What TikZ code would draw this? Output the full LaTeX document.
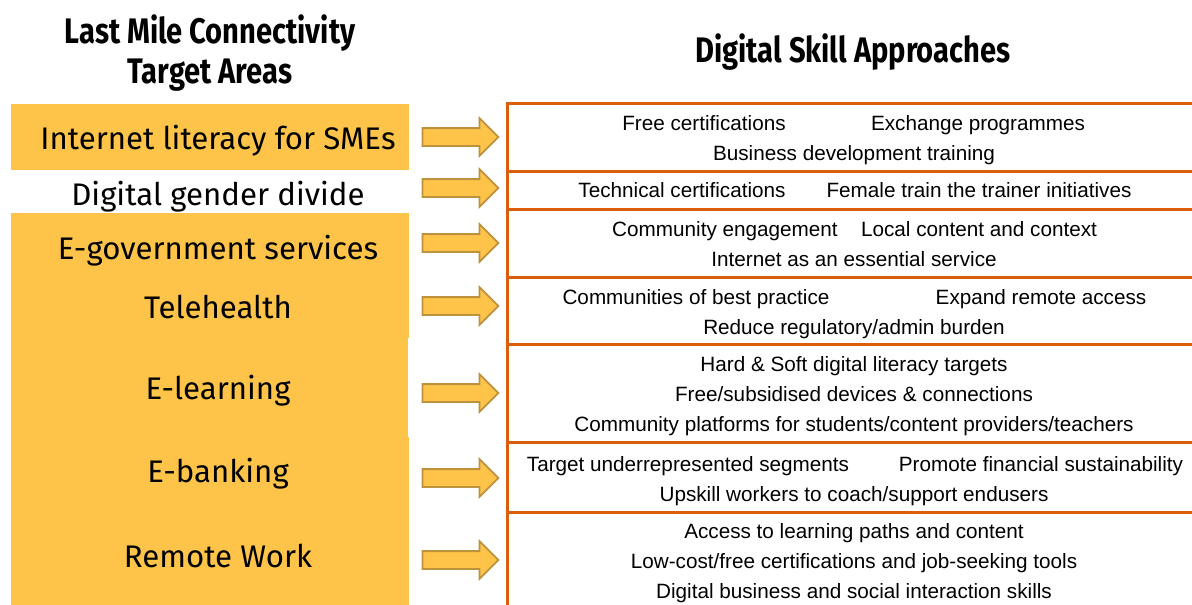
\documentclass[tikz,border=0pt]{standalone}
\usepackage{fontspec}
\setmainfont{Liberation Sans}
\newfontfamily\firafont{Fira Sans}
\newfontfamily\firahead[FakeStretch=0.82]{Fira Sans Bold}
\usetikzlibrary{shapes.arrows}

\definecolor{areafill}{RGB}{254,196,74}
\definecolor{arrowedge}{RGB}{190,145,60}
\definecolor{rowline}{RGB}{218,94,12}

\begin{document}
\begin{tikzpicture}[
  x=1pt,y=-1pt,
  header/.style={font=\firahead\fontsize{35.5}{40}\selectfont,align=center,inner sep=0pt},
  area/.style={font=\firafont\fontsize{31.2}{34}\selectfont,inner sep=0pt,
    text height=23pt,text depth=0pt},
  skill/.style={font=\fontsize{20.7}{24}\selectfont,inner sep=0pt,
    text height=15pt,text depth=0pt},
  blockarrow/.style={single arrow,fill=areafill,draw=arrowedge,line width=1.8pt,
    inner sep=8pt,single arrow head extend=10pt,minimum height=76pt,
    single arrow head indent=0pt},
  rule/.style={draw=rowline,line width=3pt},
]
\useasboundingbox (0,0) rectangle (1192,605);

% headers
\node[header] (lefthead) at (210,53) {Last Mile Connectivity\\Target Areas};
\node[header] (righthead) at (853,52) {Digital Skill Approaches};

% yellow target area blocks
\fill[areafill] (11,104) rectangle (409,170);
\fill[areafill] (11,213) rectangle (409,338);
\fill[areafill] (11,338) rectangle (408,437);
\fill[areafill] (11,437) rectangle (409,605);

\node[area] (smes)    at (218,138) {Internet literacy for SMEs};
\node[area] (gender)  at (218,194) {Digital gender divide};
\node[area] (egov)    at (218,248) {E-government services};
\node[area] (health)  at (218,307) {Telehealth};
\node[area] (elearn)  at (218,388) {E-learning};
\node[area] (ebank)   at (218,471) {E-banking};
\node[area] (remote)  at (218,556) {Remote Work};

% arrows between the columns
\foreach \y/\name in {137/smes,188/gender,243/egov,306/health,393/elearn,478/ebank,560/remote}
  \node[blockarrow] (arr-\name) at (456,\y) {};

% approaches table
\draw[rule] (1192,103) -- (507,103) -- (507,605);
\foreach \y in {171,209,277,344,442,512}
  \draw[rule] (507,\y) -- (1192,\y);

% row: SMEs
\node[skill] (certfree) at (704,123) {Free certifications};
\node[skill] (exchange) at (978,123) {Exchange programmes};
\node[skill] (business) at (854,153) {Business development training};
% row: gender
\node[skill] (certtech) at (682,190) {Technical certifications};
\node[skill] (female)   at (979,190) {Female train the trainer initiatives};
% row: e-government
\node[skill] (engage)   at (725,229) {Community engagement};
\node[skill] (local)    at (979,229) {Local content and context};
\node[skill] (essential) at (854,259) {Internet as an essential service};
% row: telehealth
\node[skill] (practice) at (696,297) {Communities of best practice};
\node[skill] (access)   at (1041,297) {Expand remote access};
\node[skill] (burden)   at (854,327) {Reduce regulatory/admin burden};
% row: e-learning
\node[skill] (literacy) at (854,364) {Hard \& Soft digital literacy targets};
\node[skill] (devices)  at (854,394) {Free/subsidised devices \& connections};
\node[skill] (platform) at (854,424) {Community platforms for students/content providers/teachers};
% row: e-banking
\node[skill] (segments) at (688,464) {Target underrepresented segments};
\node[skill] (finance)  at (1041,464) {Promote financial sustainability};
\node[skill] (upskill)  at (854,494) {Upskill workers to coach/support endusers};
% row: remote work
\node[skill] (paths)    at (854,531) {Access to learning paths and content};
\node[skill] (jobs)     at (854,561) {Low-cost/free certifications and job-seeking tools};
\node[skill] (social)   at (854,591) {Digital business and social interaction skills};
\end{tikzpicture}
\end{document}
